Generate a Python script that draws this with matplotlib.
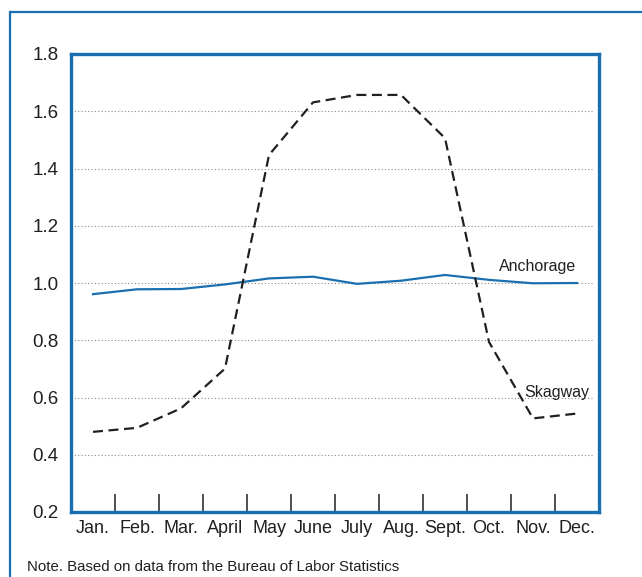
import matplotlib
matplotlib.use('Agg')
import matplotlib.pyplot as plt
from matplotlib.patches import Rectangle

# monthly index values
months = ['Jan.', 'Feb.', 'Mar.', 'April', 'May', 'June', 'July',
          'Aug.', 'Sept.', 'Oct.', 'Nov.', 'Dec.']
anchorage = [0.961, 0.978, 0.979, 0.995, 1.016, 1.022, 0.997,
             1.008, 1.028, 1.011, 0.999, 1.000]
skagway = [0.480, 0.494, 0.562, 0.701, 1.447, 1.631, 1.657,
           1.657, 1.506, 0.794, 0.527, 0.544]
y_ticks = [0.2, 0.4, 0.6, 0.8, 1.0, 1.2, 1.4, 1.6, 1.8]
grid_levels = [0.4, 0.6, 0.8, 1.0, 1.2, 1.4, 1.6]
note = 'Note. Based on data from the Bureau of Labor Statistics'

BLUE = '#1a6fb0'
TEXT = '#231f20'
plt.rcParams['font.family'] = ['Liberation Sans', 'DejaVu Sans']

fig = plt.figure(figsize=(6.42, 5.77), dpi=100)

# outer frame, open on the right and bottom (cut off in the source)
fig.patches.append(Rectangle((10 / 642, -0.05), 1.0, 1 - 11.5 / 577 + 0.05,
                             transform=fig.transFigure, fill=False,
                             edgecolor=BLUE, linewidth=1.6))

ax = fig.add_axes([71 / 642, 1 - 512 / 577, (599 - 71) / 642, (512 - 54) / 577])

x = [i + 0.5 for i in range(len(months))]

# dotted horizontal gridlines
for g in grid_levels:
    ax.plot([0, 11.85], [g, g], color='#888888', linestyle=(0, (1, 2)),
            linewidth=0.8, zorder=1)

ax.plot(x, anchorage, color=BLUE, linewidth=1.6, zorder=3)
ax.plot(x, skagway, color=TEXT, linewidth=1.6, linestyle=(0, (4.5, 2.5)), zorder=3)

ax.text(10.6, 1.033, 'Anchorage', fontsize=11.5, color=TEXT, ha='center', va='bottom')
ax.text(11.05, 0.59, 'Skagway', fontsize=11.5, color=TEXT, ha='center', va='bottom')

ax.set_xlim(0, 12)
ax.set_ylim(0.2, 1.8)
ax.set_yticks(y_ticks)
ax.set_yticklabels([f'{t:.1f}' for t in y_ticks], fontsize=13.5, color=TEXT)
ax.tick_params(axis='y', length=0, pad=9)

# month labels centred in each slot, tick marks on the slot boundaries
ax.set_xticks(x)
ax.set_xticklabels(months, fontsize=13, color=TEXT)
ax.tick_params(axis='x', which='major', length=0, pad=6)
ax.set_xticks(list(range(1, 12)), minor=True)
ax.tick_params(axis='x', which='minor', direction='in', length=13,
               width=1.1, color=TEXT)

for s in ax.spines.values():
    s.set_color(BLUE)
    s.set_linewidth(2.4)

fig.text(27 / 642, 1 - 567 / 577, note, fontsize=10.8, color=TEXT,
         ha='left', va='center')

fig.savefig('out.png', dpi=100)
